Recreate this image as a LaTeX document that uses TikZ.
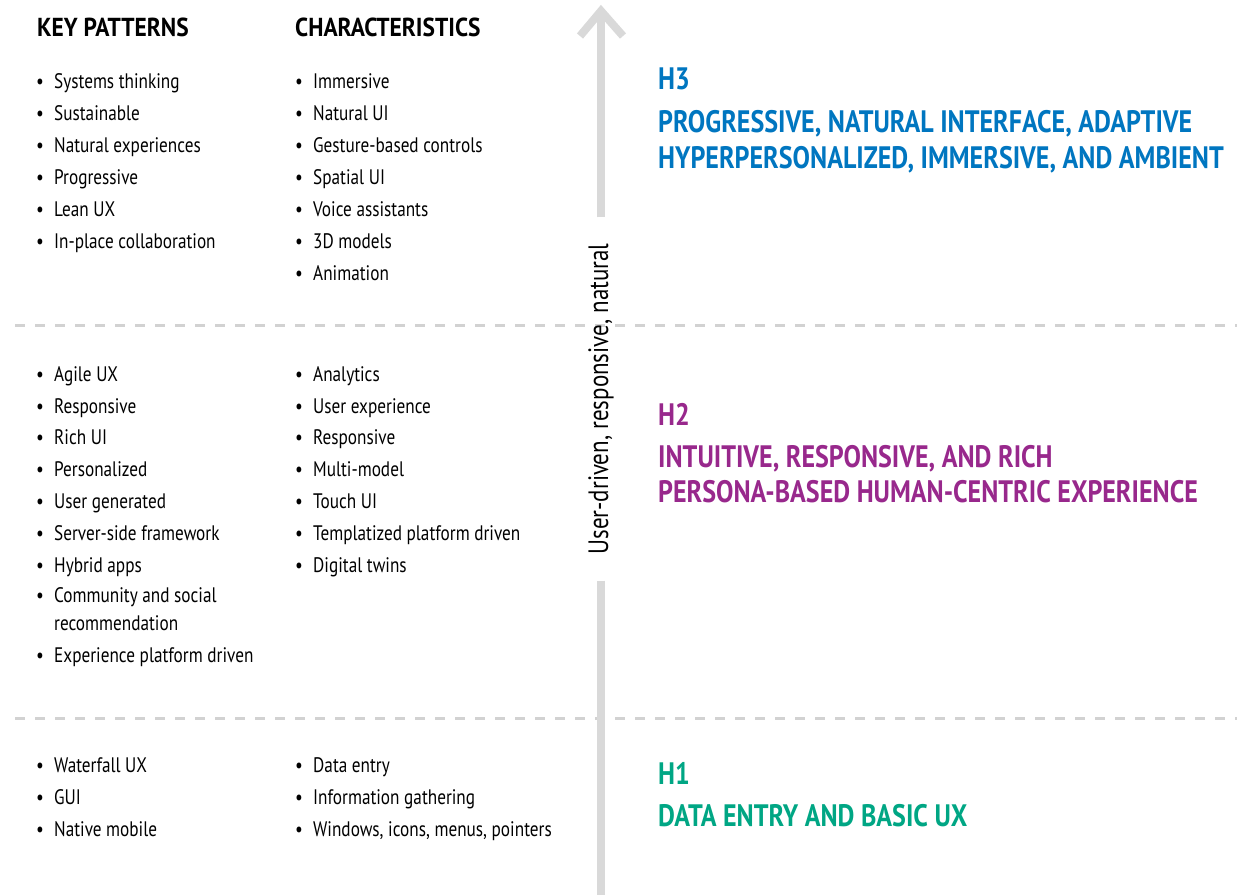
\documentclass[tikz,border=0pt]{standalone}
\usepackage{fontspec}
\setmainfont[FakeStretch=0.82]{PT Sans}
\newfontfamily\headfont[FakeStretch=0.90]{PT Sans}
\newfontfamily\horfont[FakeStretch=0.84]{PT Sans}
\usepackage{tikz}
\usetikzlibrary{positioning}
\definecolor{axisgray}{RGB}{217,217,217}
\definecolor{dashgray}{RGB}{210,210,210}
\definecolor{hblue}{RGB}{0,118,192}
\definecolor{hpurple}{RGB}{152,40,140}
\definecolor{hgreen}{RGB}{0,166,132}
\tikzset{
  itmtext/.style = {inner sep=0pt, text height=15pt, text depth=0pt, font=\fontsize{21}{25}\selectfont},
  itm/.style = {anchor=west, itmtext,
    label={[itmtext, xshift=-10pt]left:\textbullet}},
  itmcont/.style = {anchor=west, itmtext},
  colhead/.style = {anchor=west, inner sep=0pt, text height=18pt, text depth=0pt, font=\headfont\bfseries\fontsize{26}{30}\selectfont},
  horizon/.style = {anchor=west, inner sep=0pt, text height=22pt, text depth=0pt, font=\horfont\bfseries\fontsize{31}{36}\selectfont},
  sep/.style = {draw=dashgray, line width=3pt, dash pattern=on 10pt off 10pt, dash phase=15pt},
  axis/.style = {draw=axisgray, line width=8pt}
}

\begin{document}
\begin{tikzpicture}[x=1pt, y=-1pt]
  \useasboundingbox (0,0) rectangle (1237,895);

  % column heads
  \node [colhead] (kp_head) at (37,27) {KEY PATTERNS};
  \node [colhead] (ch_head) at (295,27) {CHARACTERISTICS};

  % H3 band
  \node [itm] (kp31) at (54,81) {Systems thinking};
  \node [itm] (kp32) at (54,113) {Sustainable};
  \node [itm] (kp33) at (54,145) {Natural experiences};
  \node [itm] (kp34) at (54,177) {Progressive};
  \node [itm] (kp35) at (54,209) {Lean UX};
  \node [itm] (kp36) at (54,241) {In-place collaboration};

  \node [itm] (ch31) at (313,81) {Immersive};
  \node [itm] (ch32) at (313,113) {Natural UI};
  \node [itm] (ch33) at (313,145) {Gesture-based controls};
  \node [itm] (ch34) at (313,177) {Spatial UI};
  \node [itm] (ch35) at (313,209) {Voice assistants};
  \node [itm] (ch36) at (313,241) {3D models};
  \node [itm] (ch37) at (313,273) {Animation};

  \node [horizon, text=hblue] (h3) at (658,78) {H3};
  \node [horizon, text=hblue] (h3a) at (658,121) {PROGRESSIVE, NATURAL INTERFACE, ADAPTIVE};
  \node [horizon, text=hblue] (h3b) at (658,157) {HYPERPERSONALIZED, IMMERSIVE, AND AMBIENT};

  % H2 band
  \node [itm] (kp21) at (54,374) {Agile UX};
  \node [itm] (kp22) at (54,406) {Responsive};
  \node [itm] (kp23) at (54,437) {Rich UI};
  \node [itm] (kp24) at (54,469) {Personalized};
  \node [itm] (kp25) at (54,501) {User generated};
  \node [itm] (kp26) at (54,533) {Server-side framework};
  \node [itm] (kp27) at (54,565) {Hybrid apps};
  \node [itm] (kp28) at (54,595) {Community and social};
  \node [itmcont] (kp28b) at (54,623) {recommendation};
  \node [itm] (kp29) at (54,655) {Experience platform driven};

  \node [itm] (ch21) at (313,374) {Analytics};
  \node [itm] (ch22) at (313,406) {User experience};
  \node [itm] (ch23) at (313,437) {Responsive};
  \node [itm] (ch24) at (313,469) {Multi-model};
  \node [itm] (ch25) at (313,501) {Touch UI};
  \node [itm] (ch26) at (313,533) {Templatized platform driven};
  \node [itm] (ch27) at (313,565) {Digital twins};

  \node [horizon, text=hpurple] (h2) at (658,414) {H2};
  \node [horizon, text=hpurple] (h2a) at (658,456) {INTUITIVE, RESPONSIVE, AND RICH};
  \node [horizon, text=hpurple] (h2b) at (658,491) {PERSONA-BASED HUMAN-CENTRIC EXPERIENCE};

  % H1 band
  \node [itm] (kp11) at (54,765) {Waterfall UX};
  \node [itm] (kp12) at (54,797) {GUI};
  \node [itm] (kp13) at (54,829) {Native mobile};

  \node [itm] (ch11) at (313,765) {Data entry};
  \node [itm] (ch12) at (313,797) {Information gathering};
  \node [itm] (ch13) at (313,829) {Windows, icons, menus, pointers};

  \node [horizon, text=hgreen] (h1) at (658,773) {H1};
  \node [horizon, text=hgreen] (h1a) at (658,815) {DATA ENTRY AND BASIC UX};

  % band separators
  \path [sep] (10,325) -- (1237,325);
  \path [sep] (10,718) -- (1237,718);

  % vertical axis
  \coordinate (top) at (601,11);
  \coordinate (bot) at (601,895);
  \node [rotate=90, inner xsep=26pt, inner ysep=0pt, font=\fontsize{28}{33}\selectfont] (axlbl) at (601,399) {User-driven, responsive, natural};
  \path [axis] (axlbl.east) -- (top);
  \path [axis] (axlbl.west) -- (bot);
  \path [axis, miter limit=10] ([shift={(-21,25)}]top) -- (top) -- ([shift={(22,25)}]top);

\end{tikzpicture}
\end{document}
